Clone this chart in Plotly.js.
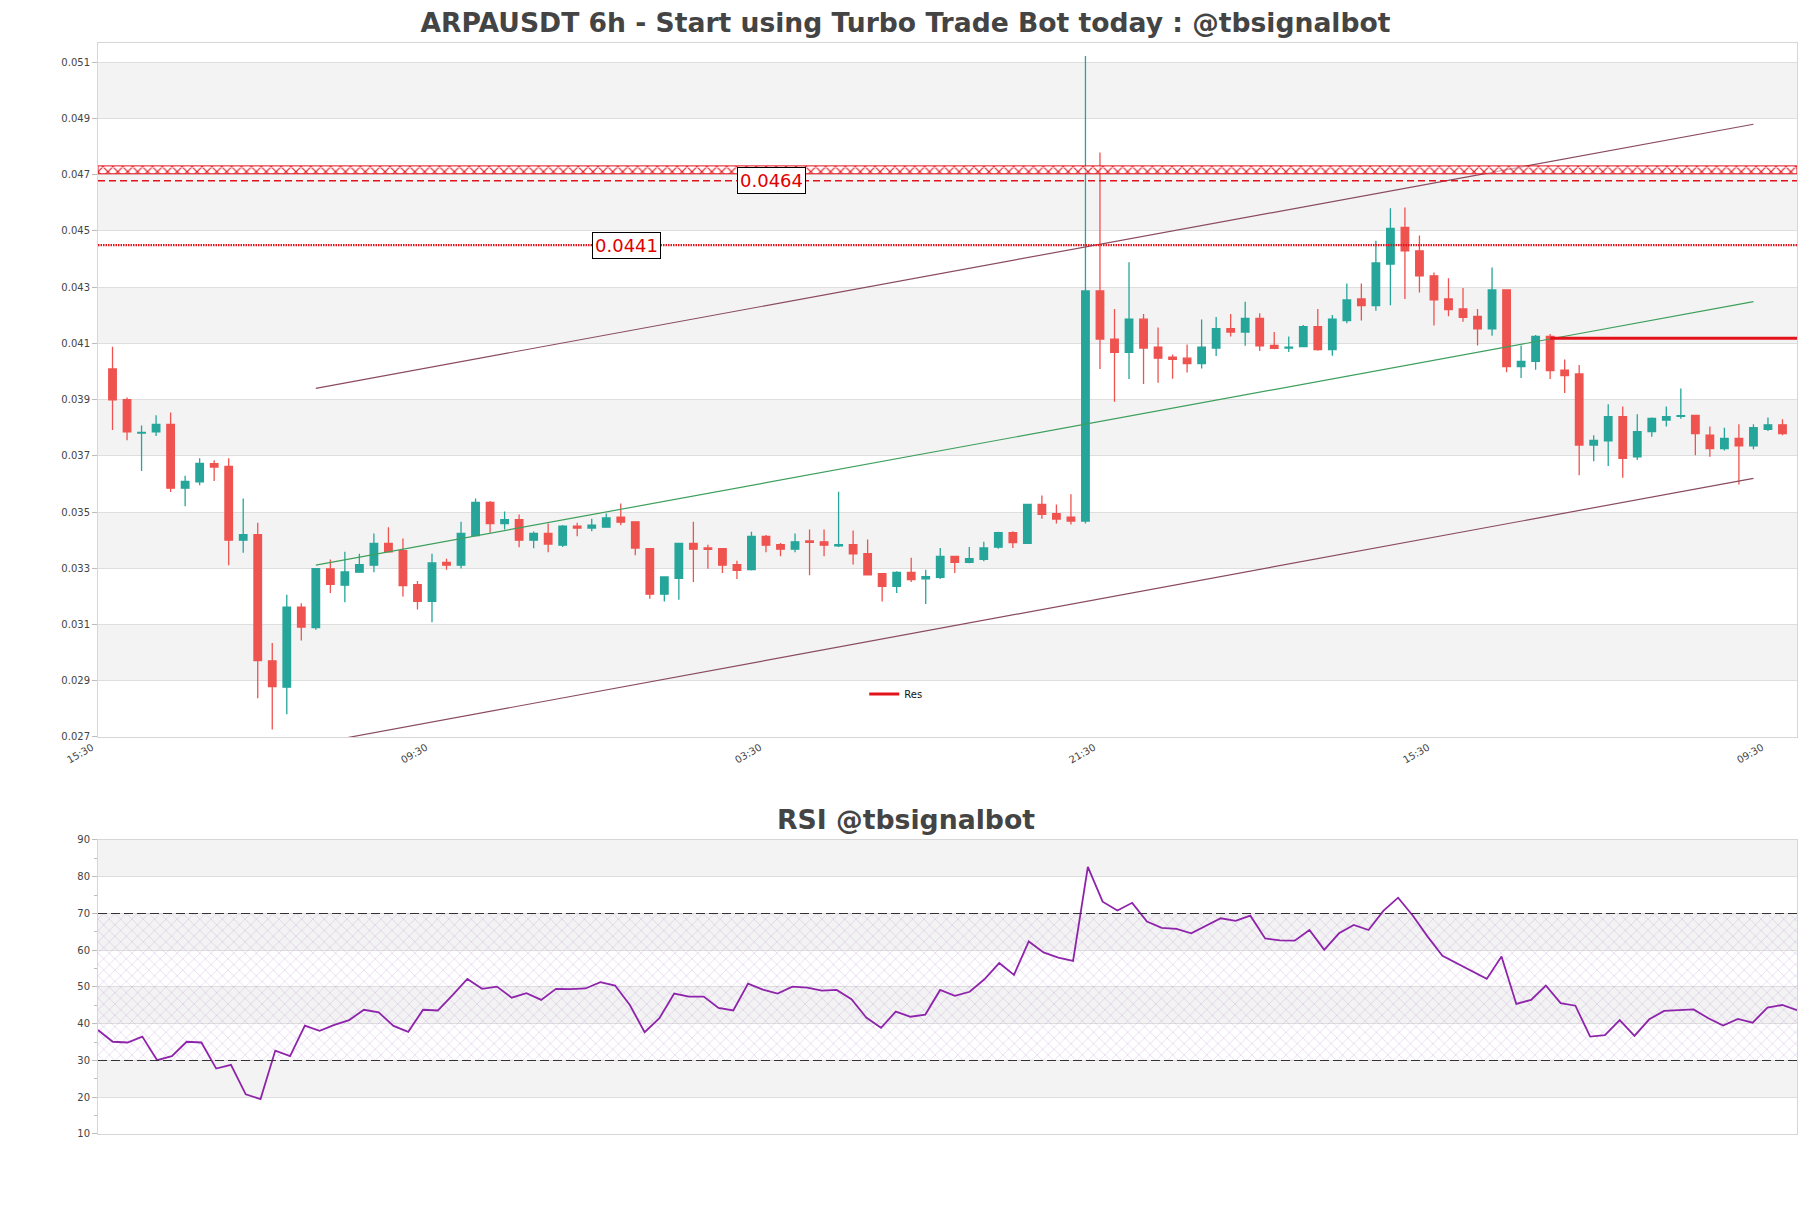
<!DOCTYPE html>
<html><head><meta charset="utf-8">
<script src="https://cdn.plot.ly/plotly-3.0.1.min.js"></script>
<style>html,body{margin:0;padding:0;background:#fff}#chart{width:1811px;height:1208px}</style>
</head><body><div id="chart"></div>
<script>
// ---- Candle data (6h bars, index 0 = 21:30) ----
const openP = [0.04009,0.03900,0.03781,0.03785,0.03812,0.03585,0.03607,0.03672,0.03662,0.03400,
0.03420,0.02971,0.02877,0.03162,0.03089,0.03298,0.03240,0.03286,0.03311,0.03388,
0.03363,0.03242,0.03182,0.03321,0.03311,0.03416,0.03534,0.03459,0.03473,0.03400,
0.03424,0.03382,0.03450,0.03443,0.03446,0.03482,0.03465,0.03370,0.03208,0.03264,
0.03388,0.03372,0.03370,0.03313,0.03295,0.03413,0.03384,0.03368,0.03397,0.03394,
0.03380,0.03384,0.03352,0.03281,0.03236,0.03285,0.03262,0.03268,0.03342,0.03321,
0.03332,0.03375,0.03427,0.03389,0.03527,0.03494,0.03482,0.03468,0.04286,0.04115,
0.04068,0.04186,0.04086,0.04051,0.04047,0.04028,0.04083,0.04152,0.04140,0.04189,
0.04093,0.04083,0.04088,0.04159,0.04078,0.04181,0.04258,0.04234,0.04382,0.04512,
0.04429,0.04340,0.04258,0.04222,0.04196,0.04151,0.04290,0.04017,0.04036,0.04125,
0.04005,0.03991,0.03738,0.03753,0.03839,0.03696,0.03786,0.03827,0.03840,0.03844,
0.03773,0.03726,0.03762,0.03735,0.03794,0.03810];
const highP = [0.04088,0.03907,0.03808,0.03844,0.03854,0.03629,0.03691,0.03684,0.03691,0.03548,
0.03462,0.03034,0.03206,0.03176,0.03301,0.03331,0.03359,0.03352,0.03424,0.03446,
0.03406,0.03255,0.03352,0.03334,0.03465,0.03548,0.03539,0.03502,0.03491,0.03431,
0.03459,0.03454,0.03462,0.03476,0.03495,0.03530,0.03467,0.03372,0.03271,0.03390,
0.03465,0.03384,0.03372,0.03327,0.03430,0.03418,0.03390,0.03424,0.03438,0.03438,
0.03572,0.03434,0.03402,0.03283,0.03289,0.03337,0.03295,0.03372,0.03344,0.03376,
0.03394,0.03430,0.03432,0.03529,0.03559,0.03527,0.03563,0.05122,0.04779,0.04222,
0.04388,0.04204,0.04156,0.04060,0.04096,0.04185,0.04194,0.04204,0.04248,0.04207,
0.04140,0.04124,0.04165,0.04222,0.04201,0.04313,0.04313,0.04465,0.04580,0.04583,
0.04483,0.04352,0.04331,0.04297,0.04222,0.04370,0.04292,0.04092,0.04130,0.04133,
0.04042,0.04023,0.03773,0.03883,0.03875,0.03848,0.03836,0.03875,0.03939,0.03846,
0.03804,0.03800,0.03812,0.03812,0.03836,0.03830];
const lowP = [0.03792,0.03755,0.03646,0.03770,0.03571,0.03521,0.03595,0.03610,0.03311,0.03355,
0.02838,0.02727,0.02781,0.03043,0.03081,0.03212,0.03179,0.03284,0.03286,0.03356,
0.03200,0.03153,0.03108,0.03295,0.03299,0.03414,0.03426,0.03438,0.03375,0.03371,
0.03357,0.03376,0.03414,0.03432,0.03444,0.03453,0.03346,0.03192,0.03182,0.03188,
0.03251,0.03298,0.03283,0.03262,0.03292,0.03357,0.03343,0.03357,0.03275,0.03343,
0.03376,0.03313,0.03275,0.03182,0.03212,0.03251,0.03173,0.03262,0.03283,0.03318,
0.03325,0.03369,0.03372,0.03388,0.03476,0.03459,0.03456,0.03459,0.04009,0.03892,
0.03973,0.03955,0.03960,0.03974,0.03996,0.04010,0.04055,0.04124,0.04091,0.04073,
0.04079,0.04069,0.04086,0.04074,0.04056,0.04171,0.04181,0.04216,0.04235,0.04258,
0.04281,0.04163,0.04196,0.04177,0.04092,0.04127,0.03997,0.03977,0.04006,0.03973,
0.03923,0.03631,0.03681,0.03664,0.03622,0.03685,0.03768,0.03804,0.03832,0.03702,
0.03697,0.03719,0.03598,0.03723,0.03788,0.03773];
const closeP = [0.03899,0.03785,0.03783,0.03812,0.03585,0.03609,0.03673,0.03660,0.03400,0.03420,
0.02972,0.02879,0.03162,0.03091,0.03299,0.03243,0.03287,0.03313,0.03388,0.03358,
0.03238,0.03182,0.03319,0.03311,0.03424,0.03534,0.03459,0.03473,0.03400,0.03424,
0.03386,0.03450,0.03443,0.03453,0.03479,0.03464,0.03372,0.03208,0.03269,0.03388,
0.03368,0.03367,0.03311,0.03293,0.03413,0.03382,0.03368,0.03394,0.03392,0.03382,
0.03384,0.03351,0.03277,0.03236,0.03285,0.03260,0.03270,0.03342,0.03321,0.03334,
0.03372,0.03427,0.03391,0.03527,0.03492,0.03475,0.03468,0.04286,0.04115,0.04068,
0.04186,0.04083,0.04047,0.04043,0.04028,0.04086,0.04152,0.04140,0.04189,0.04091,
0.04082,0.04086,0.04159,0.04078,0.04186,0.04254,0.04234,0.04386,0.04509,0.04429,
0.04340,0.04255,0.04220,0.04192,0.04151,0.04290,0.04017,0.04036,0.04125,0.04003,
0.03985,0.03738,0.03755,0.03839,0.03691,0.03786,0.03833,0.03839,0.03843,0.03779,
0.03726,0.03762,0.03735,0.03800,0.03810,0.03779];

// ---- RSI ----
const rsiValues = [38.3,35.1,34.9,36.5,30.1,31.2,35.1,34.9,27.8,28.8,
20.8,19.5,32.7,31.2,39.5,38.1,39.7,41.0,43.8,43.1,
39.4,37.8,43.8,43.6,47.8,52.2,49.5,50.1,47.1,48.3,
46.5,49.5,49.4,49.6,51.3,50.4,45.1,37.7,41.5,48.2,
47.4,47.4,44.3,43.6,50.9,49.3,48.2,50.1,49.8,49.0,
49.2,46.7,41.7,38.9,43.3,41.9,42.5,49.2,47.6,48.7,
52.1,56.5,53.3,62.4,59.4,58.0,57.1,82.7,73.2,70.8,
72.9,67.8,66.1,65.8,64.6,66.6,68.7,68.0,69.4,63.2,
62.7,62.6,65.5,60.1,64.6,66.9,65.5,70.7,74.3,69.4,
63.7,58.5,56.4,54.4,52.2,58.3,45.4,46.5,50.4,45.6,
44.9,36.5,36.9,41.0,36.7,41.2,43.5,43.7,43.9,41.5,
39.5,41.3,40.3,44.4,45.1,43.7];

// ---- Axis tick labels ----
const xTickPos = [-1, 22, 45, 68, 91, 114];
const xTickText = ['15:30', '09:30', '03:30', '21:30', '15:30', '09:30'];

// ---- Channel / levels ----
const trendX = [14, 113];
const upperLine = [0.03940, 0.04879];
const midLine = [0.03311, 0.04248];
const lowerLine = [0.02677, 0.03620];
const resX = [99, 116.7];
const resY = [0.04118, 0.04118];
const zoneBand = [0.04703, 0.04731];
const dashedLevel = 0.04678;
const dottedLevel = 0.04449;
const levelLabels = ['0.0464', '0.0441'];
const levelLabelX = [45.35, 35.36];
const rsiBounds = [30, 70];

// ---- Build ----
const idx = openP.map((_, i) => i);
const rsiIdx = rsiValues.map((_, i) => i);
const xRange = [-1, 116];
const yRange = [0.027, 0.05168];
const yTick0 = 0.027, yDtick = 0.002;
const rsiRange = [10, 90];
const FONT = 'DejaVu Sans';
const red = '#e3121b';

const traces = [];
traces.push({type:'scatter', mode:'lines', x:trendX, y:upperLine, line:{color:'#8a4b5e', width:1.2}, showlegend:false, hoverinfo:'skip', cliponaxis:false});
traces.push({type:'scatter', mode:'lines', x:trendX, y:lowerLine, line:{color:'#8a4b5e', width:1.2}, showlegend:false, hoverinfo:'skip', cliponaxis:false});
traces.push({type:'scatter', mode:'lines', x:trendX, y:midLine, line:{color:'#3d9f5c', width:1.2}, showlegend:false, hoverinfo:'skip', cliponaxis:false});
traces.push({type:'scatter', mode:'lines', x:[xRange[0], xRange[1], xRange[1], xRange[0], xRange[0]],
  y:[zoneBand[0], zoneBand[0], zoneBand[1], zoneBand[1], zoneBand[0]],
  fill:'toself', fillcolor:'rgba(0,0,0,0)',
  fillpattern:{shape:'x', fgcolor:red, bgcolor:'rgba(255,255,255,0.6)', size:7, solidity:0.3},
  line:{color:red, width:1}, showlegend:false, hoverinfo:'skip'});
traces.push({type:'candlestick', x:idx, open:openP, high:highP, low:lowP, close:closeP,
  increasing:{line:{color:'#26a69a', width:1.3}, fillcolor:'#26a69a'},
  decreasing:{line:{color:'#ef5350', width:1.3}, fillcolor:'#ef5350'},
  whiskerwidth:0, showlegend:false, hoverinfo:'skip', xaxis:'x', yaxis:'y'});
traces.push({type:'scatter', mode:'lines', name:'Res', x:resX, y:resY, line:{color:red, width:3}, cliponaxis:false, hoverinfo:'skip'});

// RSI
traces.push({type:'scatter', mode:'lines', x:[rsiIdx[0], rsiIdx[rsiIdx.length-1], rsiIdx[rsiIdx.length-1], rsiIdx[0], rsiIdx[0]],
  y:[rsiBounds[0], rsiBounds[0], rsiBounds[1], rsiBounds[1], rsiBounds[0]], xaxis:'x2', yaxis:'y2',
  fill:'toself', fillcolor:'rgba(0,0,0,0)',
  fillpattern:{shape:'x', fgcolor:'rgba(170,125,205,0.6)', bgcolor:'rgba(0,0,0,0)', size:8, solidity:0.1},
  line:{width:0}, showlegend:false, hoverinfo:'skip'});
traces.push({type:'scatter', mode:'lines', x:rsiIdx, y:rsiValues, xaxis:'x2', yaxis:'y2',
  line:{color:'#8e24aa', width:1.8}, showlegend:false, hoverinfo:'skip'});

const shapes = [];
for (let v = yTick0 + yDtick; v < yRange[1] - 1e-9; v += 2 * yDtick) {
  shapes.push({type:'rect', xref:'paper', x0:0, x1:1, yref:'y', y0:v, y1:Math.min(v + yDtick, yRange[1]),
    fillcolor:'#f3f3f3', line:{width:0}, layer:'below'});
}
for (let v = rsiRange[0] + 10; v < rsiRange[1]; v += 20) {
  shapes.push({type:'rect', xref:'paper', x0:0, x1:1, yref:'y2', y0:v, y1:v + 10,
    fillcolor:'#f3f3f3', line:{width:0}, layer:'below'});
}
shapes.push({type:'line', xref:'paper', x0:0, x1:1, yref:'y', y0:dashedLevel, y1:dashedLevel,
  line:{color:red, width:1.5, dash:'7px,4px'}, layer:'above'});
shapes.push({type:'line', xref:'paper', x0:0, x1:1, yref:'y', y0:dottedLevel, y1:dottedLevel,
  line:{color:red, width:2.2, dash:'1.5px,1px'}, layer:'above'});
rsiBounds.forEach(b => shapes.push({type:'line', xref:'paper', x0:0, x1:1, yref:'y2', y0:b, y1:b,
  line:{color:'#333', width:1.2, dash:'9px,4px'}, layer:'above'}));

const annotations = [
  {x:levelLabelX[0], y:dashedLevel, xref:'x', yref:'y', text:levelLabels[0], showarrow:false,
   font:{family:FONT, size:18, color:'#e00000'}, bgcolor:'#ffffff', bordercolor:'#000', borderwidth:1, borderpad:2},
  {x:levelLabelX[1], y:dottedLevel, xref:'x', yref:'y', text:levelLabels[1], showarrow:false,
   font:{family:FONT, size:18, color:'#e00000'}, bgcolor:'#ffffff', bordercolor:'#000', borderwidth:1, borderpad:2},
  {x:0.4753, y:0.2887, xref:'paper', yref:'paper', text:'RSI @tbsignalbot', showarrow:false, yanchor:'middle',
   font:{family:FONT, size:26.7, color:'#444', weight:'bold'}}
];

const axisCommon = {showline:true, mirror:true, linecolor:'#d6d6d6', linewidth:1, zeroline:false, fixedrange:true};
const layout = {
  width:1811, height:1208,
  paper_bgcolor:'#fff', plot_bgcolor:'#fff',
  font:{family:FONT, size:10, color:'#444'},
  margin:{l:98, r:14, t:43, b:74},
  title:{text:'ARPAUSDT 6h - Start using Turbo Trade Bot today : @tbsignalbot',
    font:{family:FONT, size:26.6, color:'#444', weight:'bold'}, x:0.5, xref:'container', xanchor:'center',
    y:1 - 23/1208, yref:'container', yanchor:'middle'},
  showlegend:true,
  legend:{x:0.451, y:0.4033, xanchor:'left', yanchor:'middle', bgcolor:'rgba(0,0,0,0)', font:{size:10, color:'#111'}},
  xaxis:Object.assign({}, axisCommon, {domain:[0,1], anchor:'y', range:xRange, tickmode:'array', tickvals:xTickPos,
    ticktext:xTickText, tickangle:-30, showgrid:false, ticks:'', ticklabelshift:-6, rangeslider:{visible:false}, tickfont:{size:10, color:'#444'}}),
  yaxis:Object.assign({}, axisCommon, {domain:[0.3639,1], anchor:'x', range:yRange, tick0:yTick0, dtick:yDtick,
    tickformat:'.3f', gridcolor:'#dedede', ticks:'outside', ticklen:5, tickcolor:'#bdbdbd', tickfont:{size:10, color:'#444'}}),
  xaxis2:Object.assign({}, axisCommon, {domain:[0,1], anchor:'y2', range:[rsiIdx[0], rsiIdx[rsiIdx.length-1]],
    showticklabels:false, showgrid:false, ticks:''}),
  yaxis2:Object.assign({}, axisCommon, {domain:[0,0.2695], anchor:'x2', range:rsiRange, tick0:10, dtick:10,
    gridcolor:'#dedede', ticks:'outside', ticklen:5, tickcolor:'#bdbdbd', tickfont:{size:10, color:'#444'},
    minor:{dtick:5, ticks:'outside', ticklen:3, tickcolor:'#bdbdbd', showgrid:false}}),
  boxgap:0.26,
  shapes:shapes,
  annotations:annotations
};

Plotly.newPlot('chart', traces, layout, {displayModeBar:false, staticPlot:true});
</script>
</body></html>
